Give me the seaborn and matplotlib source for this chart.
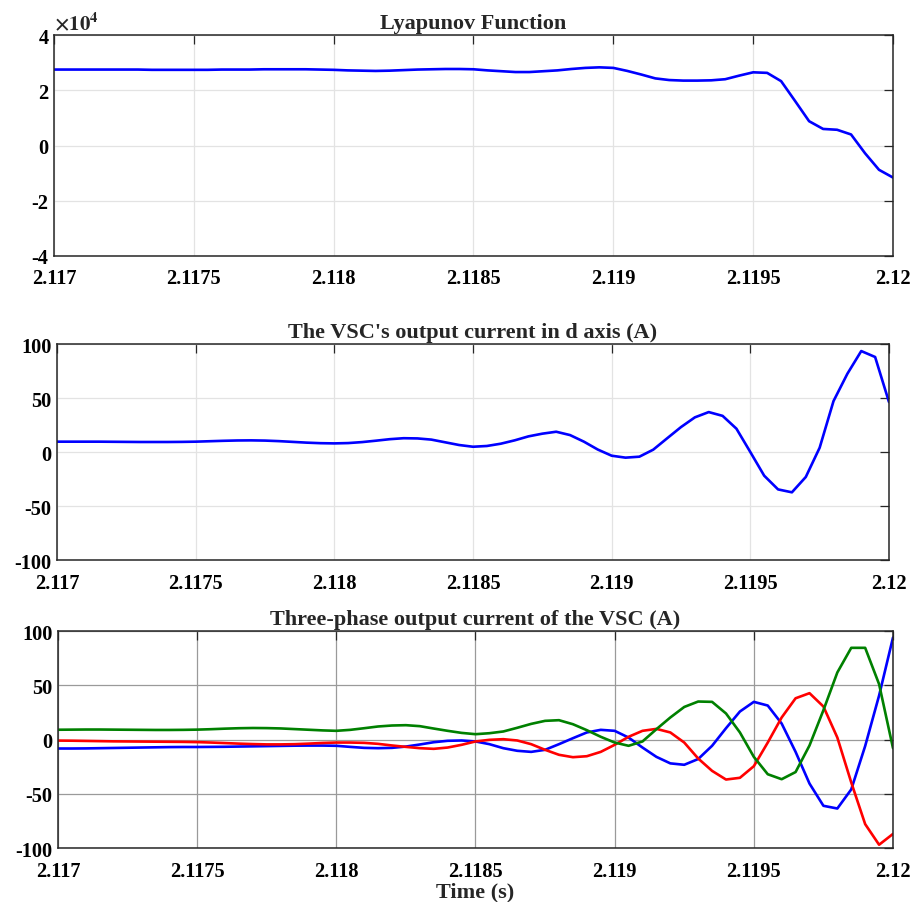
import numpy as np
import pandas as pd
import matplotlib
matplotlib.use('Agg')
import matplotlib.pyplot as plt
import seaborn as sns

# sample grid: 2.117 s to 2.12 s, every 50 us
time = np.round(2.117 + 0.00005 * np.arange(61), 5)

# Lyapunov function (raw values)
lyap = [27500, 27500, 27500, 27500, 27500, 27500, 27500, 27400, 27400, 27400,
        27400, 27400, 27500, 27500, 27500, 27600, 27600, 27600, 27600, 27500,
        27400, 27200, 27100, 27000, 27100, 27300, 27500, 27600, 27700, 27700,
        27600, 27200, 26900, 26600, 26600, 26900, 27200, 27700, 28100, 28300,
        28100, 27000, 25700, 24300, 23700, 23500, 23500, 23600, 24000, 25300,
        26500, 26300, 23300, 16100, 8800, 6000, 5700, 4000, -2800, -8800,
        -11600]

# d-axis current of the VSC (A)
i_d = [9.6, 9.6, 9.6, 9.6, 9.5, 9.4, 9.3, 9.3, 9.3, 9.4,
       9.6, 10.0, 10.4, 10.7, 10.8, 10.6, 10.1, 9.4, 8.7, 8.2,
       8.0, 8.3, 9.2, 10.5, 11.9, 12.8, 12.6, 11.5, 9.0, 6.5,
       4.9, 5.6, 7.7, 10.8, 14.5, 17.0, 18.8, 15.7, 9.6, 2.3,
       -3.4, -5.2, -4.3, 2.2, 12.7, 23.1, 32.1, 37.0, 33.5, 21.6,
       0.0, -21.9, -34.6, -37.3, -23.1, 4.0, 47.2, 72.5, 93.5, 88.0,
       46.3]

# three-phase currents (A)
i_blue = [-8.3, -8.3, -8.2, -8.0, -7.8, -7.6, -7.4, -7.2, -7.0, -6.9,
          -6.9, -6.8, -6.7, -6.5, -6.3, -6.1, -5.9, -5.7, -5.6, -5.6,
          -5.8, -6.8, -7.7, -8.0, -7.7, -6.5, -4.6, -2.5, -1.2, -0.9,
          -1.8, -4.3, -8.0, -10.4, -11.4, -9.5, -4.3, 1.2, 6.5, 8.9,
          8.0, 1.8, -7.4, -16.0, -22.0, -23.3, -18.0, -5.8, 10.4, 25.8,
          34.7, 31.3, 14.7, -11.4, -40.6, -61.1, -63.6, -46.0, -6.0, 40.5,
          94.0]
i_red = [-1.0, -1.1, -1.3, -1.5, -1.7, -1.8, -1.9, -2.0, -2.1, -2.2,
         -2.4, -2.8, -3.3, -3.8, -4.2, -4.5, -4.5, -4.3, -3.8, -3.2,
         -2.8, -2.8, -3.1, -4.0, -5.5, -6.8, -8.0, -8.6, -7.4, -4.9,
         -1.8, -0.3, 0.3, -0.9, -4.3, -9.5, -14.1, -16.3, -15.4, -11.4,
         -4.9, 2.5, 8.0, 9.8, 6.5, -2.8, -17.5, -28.9, -36.9, -35.3,
         -24.6, -2.8, 20.3, 38.0, 42.7, 30.4, 1.8, -39.6, -78.0, -97.0,
         -87.0]
i_green = [9.0, 9.1, 9.2, 9.2, 9.1, 9.0, 8.9, 8.8, 8.8, 8.9,
           9.1, 9.5, 10.0, 10.4, 10.6, 10.5, 10.2, 9.6, 9.0, 8.4,
           8.0, 8.9, 10.4, 12.0, 12.9, 13.2, 12.3, 10.1, 8.0, 6.1,
           4.9, 5.8, 7.4, 10.8, 14.4, 17.2, 17.8, 14.1, 8.6, 2.5,
           -2.8, -5.8, -1.8, 9.5, 20.3, 30.0, 35.0, 34.7, 24.0, 6.5,
           -16.0, -32.0, -36.6, -30.0, -5.5, 27.0, 61.8, 84.5, 84.5, 51.0,
           -8.0]

xticks = [2.117, 2.1175, 2.118, 2.1185, 2.119, 2.1195, 2.12]
xticklabels = ['2.117', '2.1175', '2.118', '2.1185', '2.119', '2.1195', '2.12']

sns.set_style('white')
plt.rcParams['font.family'] = ['Liberation Serif', 'DejaVu Serif']
plt.rcParams['font.weight'] = 'bold'
plt.rcParams['axes.unicode_minus'] = False
plt.rcParams['mathtext.fontset'] = 'stix'

df = pd.DataFrame({'t': time, 'V': np.array(lyap) / 1e4, 'id': i_d,
                   'ia': i_blue, 'ib': i_red, 'ic': i_green})

fig = plt.figure(figsize=(9.13, 9.03), dpi=100)
ax1 = fig.add_axes([0.0591, 0.7154, 0.9190, 0.2447])
ax2 = fig.add_axes([0.0624, 0.3787, 0.9113, 0.2392])
ax3 = fig.add_axes([0.0635, 0.0598, 0.9146, 0.2403])

lw = 1.9
sns.lineplot(data=df, x='t', y='V', ax=ax1, color='#0000ff', lw=lw, estimator=None)
sns.lineplot(data=df, x='t', y='id', ax=ax2, color='#0000ff', lw=lw, estimator=None)
sns.lineplot(data=df, x='t', y='ia', ax=ax3, color='#0000ff', lw=lw, estimator=None)
sns.lineplot(data=df, x='t', y='ib', ax=ax3, color='#ff0000', lw=lw, estimator=None)
sns.lineplot(data=df, x='t', y='ic', ax=ax3, color='#008000', lw=lw, estimator=None)

ax1.set_ylim(-4, 4)
ax1.set_yticks([-4, -2, 0, 2, 4])
ax1.set_yticklabels(['-4', '-2', '0', '2', '4'])
ax1.text(0.0, 1.003, r'$\times10^{4}$', transform=ax1.transAxes,
         ha='left', va='bottom', fontsize=15)

for ax in (ax2, ax3):
    ax.set_ylim(-100, 100)
    ax.set_yticks([-100, -50, 0, 50, 100])
    ax.set_yticklabels(['-100', '-50', '0', '50', '100'])

titles = ['Lyapunov Function',
          "The VSC's output current in d axis (A)",
          'Three-phase output current of the VSC (A)']
grid_colors = ['#e3e3e3', '#e3e3e3', '#9a9a9a']
for ax, title, gc in zip((ax1, ax2, ax3), titles, grid_colors):
    ax.set_xlim(2.117, 2.12)
    ax.set_xticks(xticks)
    ax.set_xticklabels(xticklabels)
    ax.set_xlabel('')
    ax.set_ylabel('')
    ax.grid(True, color=gc, lw=0.9)
    ax.set_axisbelow(True)
    ax.tick_params(direction='in', length=6.5, width=0.9, top=True, right=True,
                   labelsize=14.7, colors='#262626', labelcolor='black')
    ax.tick_params(axis='x', pad=9)
    ax.tick_params(axis='y', pad=4)
    for s in ax.spines.values():
        s.set_color('#262626')
        s.set_linewidth(1.1)
    ax.set_title(title, fontsize=16, fontweight='bold', pad=5)

ax3.set_xlabel('Time (s)', fontsize=16, fontweight='bold', labelpad=1)

plt.savefig('out.png', dpi=100)
